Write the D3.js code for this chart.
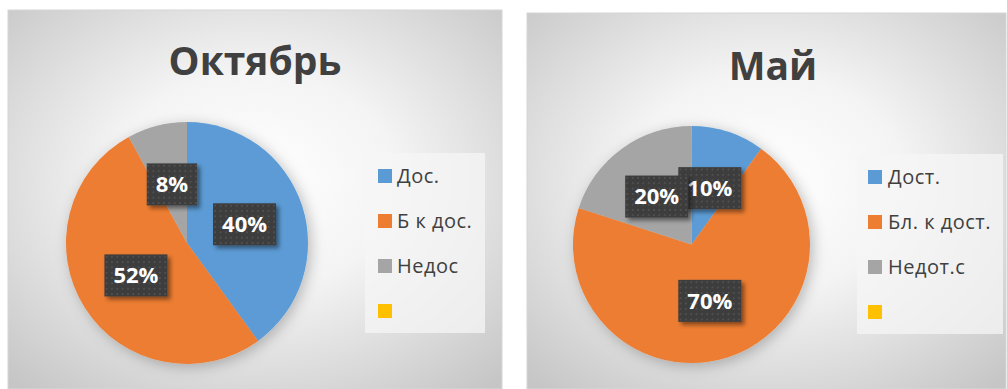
<!DOCTYPE html>
<html>
<head>
<meta charset="utf-8">
<script src="https://cdn.jsdelivr.net/npm/d3@7"></script>
<style>
  html, body { margin: 0; padding: 0; background: #ffffff; }
  svg { display: block; }
</style>
</head>
<body>
<svg id="chart" width="1007" height="389"></svg>
<script>
// Data
const octTitle = "Октябрь";
const octCategories = ["Дос.", "Б к дос.", "Недос", ""];
const octValues = [40, 52, 8, 0];

const mayTitle = "Май";
const mayCategories = ["Дост.", "Бл. к дост.", "Недот.с", ""];
const mayValues = [10, 70, 20, 0];

const sliceColors = ["#5b9bd5", "#ed7d31", "#a5a5a5", "#ffc000"];

const FONT = "'Open Sans', Lato, sans-serif";

// Layout for each chart panel
const panels = [
  { title: octTitle, categories: octCategories, values: octValues,
    box: { x: 8, y: 10, w: 494, h: 379 },
    titleX: 255, titleY: 75,
    cx: 187, cy: 243, r: 121,
    legend: { x: 365, y: 153, w: 120, h: 180, swatchX: 378, textX: 397, rowY: 176, step: 45 } },
  { title: mayTitle, categories: mayCategories, values: mayValues,
    box: { x: 527, y: 13, w: 479, h: 376 },
    titleX: 773, titleY: 80,
    cx: 691.5, cy: 244.5, r: 118.5,
    legend: { x: 857, y: 154, w: 146, h: 180, swatchX: 868, textX: 888, rowY: 177, step: 45 } }
];

const svg = d3.select("#chart");
const defs = svg.append("defs");

// Soft grey panel background
const grad = defs.append("radialGradient")
  .attr("id", "panelBg").attr("cx", "50%").attr("cy", "45%").attr("r", "72%");
grad.append("stop").attr("offset", "0%").attr("stop-color", "#ffffff");
grad.append("stop").attr("offset", "40%").attr("stop-color", "#f4f4f4");
grad.append("stop").attr("offset", "100%").attr("stop-color", "#c6c6c6");

// Shadow under the pie
const pieShadow = defs.append("filter").attr("id", "pieShadow")
  .attr("x", "-30%").attr("y", "-30%").attr("width", "160%").attr("height", "160%");
pieShadow.append("feDropShadow")
  .attr("dx", 3).attr("dy", 3).attr("stdDeviation", 7)
  .attr("flood-color", "#000").attr("flood-opacity", 0.25);

// Shadow under the value labels
const labelShadow = defs.append("filter").attr("id", "labelShadow")
  .attr("x", "-20%").attr("y", "-20%").attr("width", "150%").attr("height", "160%");
labelShadow.append("feDropShadow")
  .attr("dx", 3).attr("dy", 3).attr("stdDeviation", 2)
  .attr("flood-color", "#000").attr("flood-opacity", 0.45);

// Dotted dark fill of the value labels
const dots = defs.append("pattern").attr("id", "dotFill")
  .attr("patternUnits", "userSpaceOnUse").attr("width", 5.33).attr("height", 5.33);
dots.append("rect").attr("width", 5.33).attr("height", 5.33).attr("fill", "#3d3d3d");
dots.append("circle").attr("cx", 2.66).attr("cy", 2.66).attr("r", 0.9).attr("fill", "#575757");

const pct = d3.format(".0%");

panels.forEach(p => {
  const g = svg.append("g");

  g.append("rect")
    .attr("x", p.box.x).attr("y", p.box.y)
    .attr("width", p.box.w).attr("height", p.box.h)
    .attr("fill", "url(#panelBg)")
    .attr("stroke", "#d6d6d6").attr("stroke-width", 1);

  g.append("text")
    .attr("x", p.titleX).attr("y", p.titleY)
    .attr("text-anchor", "middle")
    .attr("font-family", FONT)
    .attr("font-weight", 700).attr("font-size", 39)
    .attr("fill", "#404040")
    .text(p.title);

  const rows = p.categories.map((c, i) => ({ category: c, value: p.values[i], color: sliceColors[i] }));
  const total = d3.sum(rows, d => d.value);

  const pie = d3.pie().sort(null).value(d => d.value);
  const arcs = pie(rows);
  const arc = d3.arc().innerRadius(0).outerRadius(p.r);

  const pieG = g.append("g").attr("transform", `translate(${p.cx},${p.cy})`);
  pieG.append("g").attr("filter", "url(#pieShadow)")
    .selectAll("path").data(arcs.filter(a => a.data.value > 0)).join("path")
    .attr("d", arc).attr("fill", d => d.data.color);

  // Value labels at the arc centroids
  const labels = pieG.selectAll("g.lbl").data(arcs.filter(a => a.data.value > 0)).join("g")
    .attr("class", "lbl")
    .attr("transform", d => `translate(${arc.centroid(d)})`);
  labels.each(function(d) {
    const lg = d3.select(this);
    const t = lg.append("text")
      .attr("text-anchor", "middle").attr("dy", "0.36em")
      .attr("font-family", FONT)
      .attr("font-weight", 700).attr("font-size", 22)
      .attr("fill", "#ffffff")
      .text(pct(d.data.value / total));
    const w = t.node().getComputedTextLength() + 18;
    lg.insert("rect", "text")
      .attr("x", -w / 2).attr("y", -21).attr("width", w).attr("height", 42)
      .attr("fill", "url(#dotFill)")
      .attr("filter", "url(#labelShadow)");
  });

  // Legend
  const L = p.legend;
  g.append("rect")
    .attr("x", L.x).attr("y", L.y).attr("width", L.w).attr("height", L.h)
    .attr("fill", "#f6f6f6").attr("fill-opacity", 0.75);
  const items = g.selectAll("g.leg").data(rows).join("g")
    .attr("class", "leg")
    .attr("transform", (d, i) => `translate(0,${L.rowY + i * L.step})`);
  items.append("rect")
    .attr("x", L.swatchX).attr("y", -7).attr("width", 14).attr("height", 14)
    .attr("fill", d => d.color);
  items.append("text")
    .attr("x", L.textX).attr("dy", "0.36em")
    .attr("font-family", FONT)
    .attr("font-size", 20).attr("letter-spacing", 0.5)
    .attr("fill", "#404040")
    .text(d => d.category);
});
</script>
</body>
</html>
